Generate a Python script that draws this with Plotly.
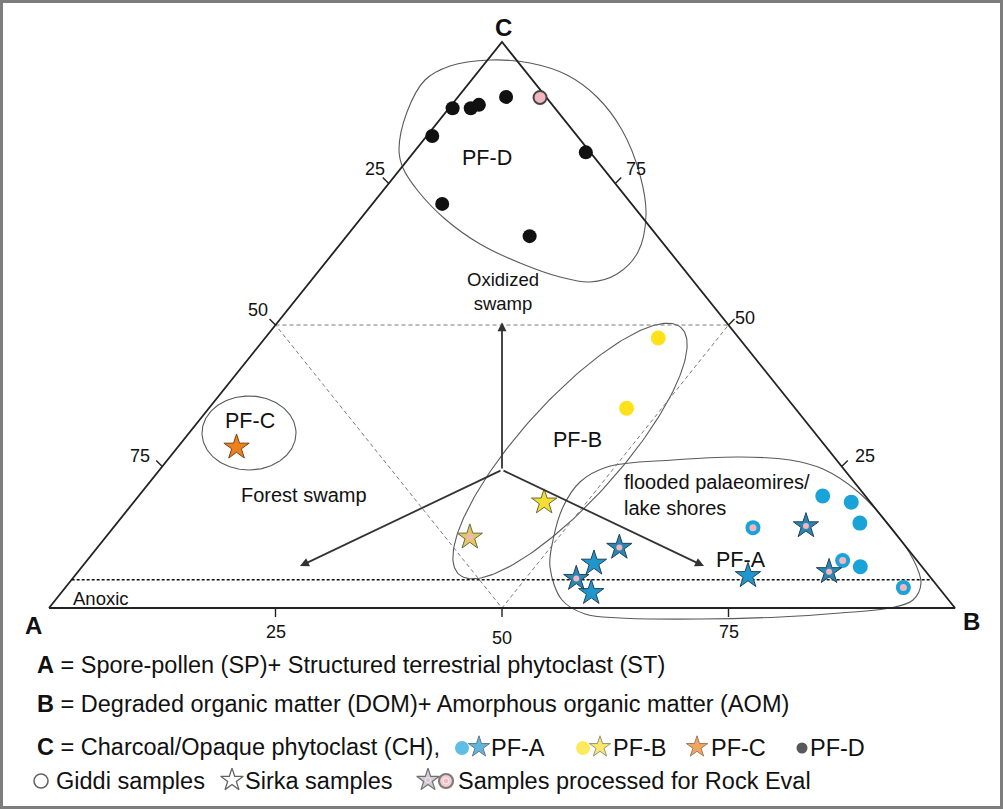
import numpy as np
import plotly.graph_objects as go

# ---------------- data (ternary percentages A, B, C) ----------------
# PF-A  (Giddi = circles, Sirka = stars)
pfa_circ_A = [4.7, 2.1, 3.0, 6.8]
pfa_circ_B = [75.5, 79.2, 82.0, 85.9]
pfa_circ_C = [19.8, 18.7, 15.0, 7.3]
pfa_circ_re_A = [15.2, 8.2, 3.9]          # processed for Rock Eval
pfa_circ_re_B = [70.6, 83.4, 92.5]
pfa_circ_re_C = [14.2, 8.4, 3.6]
pfa_star_A = [35.9, 38.8, 20.0]
pfa_star_B = [56.2, 58.5, 74.3]
pfa_star_C = [7.9, 2.7, 5.7]
pfa_star_re_A = [31.7, 39.2, 9.2, 10.7]
pfa_star_re_B = [57.6, 55.6, 76.3, 82.9]
pfa_star_re_C = [10.7, 5.2, 14.5, 6.4]
# PF-B
pfb_circ_A = [8.9, 18.6]
pfb_circ_B = [43.4, 46.1]
pfb_circ_C = [47.7, 35.3]
pfb_star_A = [36.0]
pfb_star_B = [45.3]
pfb_star_C = [18.7]
pfb_star_re_A = [47.3]
pfb_star_re_B = [40.2]
pfb_star_re_C = [12.5]
# PF-C
pfc_star_A = [65.1]
pfc_star_B = [6.5]
pfc_star_C = [28.4]
# PF-D
pfd_circ_A = [11.3, 9.3, 8.1, 4.4, 16.0, 0.5, 20.9, 14.1]
pfd_circ_B = [0.4, 2.4, 3.0, 5.3, 0.6, 19.0, 7.7, 20.2]
pfd_circ_C = [88.3, 88.3, 88.9, 90.3, 83.4, 80.5, 71.4, 65.7]
pfd_circ_re_A = [0.7]
pfd_circ_re_B = [9.1]
pfd_circ_re_C = [90.2]

tick_values = [25, 50, 75]
anoxic_C = 5
# depositional-environment arrows (A, B, C)
arrow_center = (37.8, 37.8, 24.4)
arrow_tips = [(24.75, 24.75, 50.5), (68.6, 24.0, 7.4), (24.0, 68.6, 7.4)]

# ---------------- geometry ----------------
W, H = 1003, 809
PX_A, PX_B, PY_BASE, PY_TOP = 49, 955, 608, 42
sx = (PX_B - PX_A) / 100.0
sy = (PY_BASE - PY_TOP) / 100.0
xmin = -PX_A / sx
xmax = xmin + W / sx
ymax = 100 + PY_TOP / sy
ymin = ymax - H / sy


def tern(a, b, c):
    a, b, c = (np.asarray(v, float) for v in (a, b, c))
    s = a + b + c
    b = b / s * 100
    c = c / s * 100
    return b + c / 2, c


def px2d(px, py):
    return (np.asarray(px, float) - PX_A) / sx, (PY_BASE - np.asarray(py, float)) / sy


fig = go.Figure()
LINE = "#222222"
OUT = "#5a5a5a"


def add_line(x, y, color=LINE, width=1.6, dash=None, shape="linear"):
    fig.add_trace(go.Scatter(x=list(x), y=list(y), mode="lines",
                             line=dict(color=color, width=width, dash=dash, shape=shape),
                             hoverinfo="skip", showlegend=False))


def ellipse(cx, cy, a, b, ang):
    t = np.linspace(0, 2 * np.pi, 200)
    th = np.radians(ang)
    px = cx + a * np.cos(t) * np.cos(th) - b * np.sin(t) * np.sin(th)
    py = cy + a * np.cos(t) * np.sin(th) + b * np.sin(t) * np.cos(th)
    return px2d(px, py)


# group outlines
pfd_outline = [(399, 150), (407, 112), (425, 80), (450, 66), (490, 60), (530, 63), (567, 75),
               (597, 97), (622, 130), (640, 175), (646, 215), (638, 252), (617, 274), (590, 282),
               (560, 277), (520, 263), (480, 244), (445, 219), (418, 191), (403, 168), (399, 150)]
pfa_outline = [(550, 567), (553, 540), (563, 507), (580, 482), (607, 467), (673, 460), (740, 457),
               (790, 460), (823, 469), (857, 491), (890, 526), (913, 559), (921, 583), (913, 600),
               (890, 608), (840, 613), (780, 617), (700, 619), (620, 618), (585, 614), (562, 600),
               (550, 567)]
for pts in (pfd_outline, pfa_outline):
    xx, yy = px2d([p[0] for p in pts], [p[1] for p in pts])
    add_line(xx, yy, color=OUT, width=1.1, shape="spline")
ex, ey = ellipse(570, 451, 166, 50, -48)
add_line(ex, ey, color=OUT, width=1.1)
ex, ey = ellipse(249, 433, 47, 37, 0)
add_line(ex, ey, color=OUT, width=1.1)

# dashed inner triangle
ix, iy = tern([50, 0, 50, 50], [0, 50, 50, 0], [50, 50, 0, 50])
add_line(ix, iy, color="#7a7a7a", width=1, dash="4px,3px")

# outer triangle
tx, ty = tern([100, 0, 0, 100], [0, 100, 0, 0], [0, 0, 100, 0])
add_line(tx, ty, color=LINE, width=1.8)

# anoxic line
ax_, ay_ = tern([100 - anoxic_C, 0], [0, 100 - anoxic_C], [anoxic_C, anoxic_C])
add_line(ax_, ay_, color="#111111", width=1.6, dash="3px,2px")

# ticks
for v in tick_values:
    bx, by = tern([100 - v], [v], [0])
    add_line([bx[0], bx[0]], [by[0], by[0] - 9 / sy], width=1.4)
    lx, ly = tern([v], [0], [100 - v])
    add_line([lx[0], lx[0] - 6 / sx], [ly[0], ly[0] + 6 / sy], width=1.4)
    rx, ry = tern([0], [100 - v], [v])
    add_line([rx[0], rx[0] + 6 / sx], [ry[0], ry[0] + 6 / sy], width=1.4)

# ---------------- data markers ----------------
PINK = "#F3B6BF"
BLUE = "#1AA3D9"
BLUE_STAR = "#1F97CC"
YEL = "#FFE11A"


def add_pts(A, B, C, symbol, size, color, lcolor, lwidth, name):
    x, y = tern(A, B, C)
    fig.add_trace(go.Scatter(x=x, y=y, mode="markers", name=name, showlegend=False,
                             marker=dict(symbol=symbol, size=size, color=color,
                                         line=dict(color=lcolor, width=lwidth))))


def add_center(A, B, C, size=6.5):
    x, y = tern(A, B, C)
    fig.add_trace(go.Scatter(x=x, y=y, mode="markers", showlegend=False, hoverinfo="skip",
                             marker=dict(symbol="circle", size=size, color=PINK,
                                         line=dict(width=0))))


STAR = 19
add_pts(pfd_circ_A, pfd_circ_B, pfd_circ_C, "circle", 14, "#111111", "#111111", 0, "PF-D")
add_pts(pfd_circ_re_A, pfd_circ_re_B, pfd_circ_re_C, "circle", 13, PINK, "#444444", 2, "PF-D RE")
add_pts(pfb_circ_A, pfb_circ_B, pfb_circ_C, "circle", 15, YEL, YEL, 0, "PF-B")
add_pts(pfb_star_A, pfb_star_B, pfb_star_C, "star", STAR, "#F4DE32", "#6d6a3a", 1, "PF-B star")
add_pts(pfb_star_re_A, pfb_star_re_B, pfb_star_re_C, "star", STAR, "#E2C766", "#6d6a3a", 1, "PF-B RE")
add_center(pfb_star_re_A, pfb_star_re_B, pfb_star_re_C, 6)
add_pts(pfc_star_A, pfc_star_B, pfc_star_C, "star", STAR, "#EC7F1E", "#7a4414", 1, "PF-C")
add_pts(pfa_circ_A, pfa_circ_B, pfa_circ_C, "circle", 15, BLUE, BLUE, 0, "PF-A")
add_pts(pfa_circ_re_A, pfa_circ_re_B, pfa_circ_re_C, "circle", 15, BLUE, BLUE, 0, "PF-A RE")
add_center(pfa_circ_re_A, pfa_circ_re_B, pfa_circ_re_C, 7)
add_pts(pfa_star_A, pfa_star_B, pfa_star_C, "star", STAR, BLUE_STAR, "#22415a", 1, "PF-A star")
add_pts(pfa_star_re_A, pfa_star_re_B, pfa_star_re_C, "star", STAR, "#2a86b3", "#22415a", 1, "PF-A star RE")
add_center(pfa_star_re_A, pfa_star_re_B, pfa_star_re_C, 6)

# ---------------- annotations ----------------
FONT = "Arial, 'Liberation Sans', sans-serif"
ann = []


def text_px(px, py, s, size, anchor="center", bold=False, color="#111111", align="center"):
    x, y = px2d(px, py)
    ann.append(dict(x=float(x), y=float(y), xref="x", yref="y", text=f"<b>{s}</b>" if bold else s,
                    showarrow=False, xanchor=anchor, yanchor="middle", align=align,
                    font=dict(family=FONT, size=size, color=color)))


# corner labels
text_px(33, 625, "A", 24, bold=True)
text_px(971, 621, "B", 24, bold=True)
text_px(503, 27, "C", 24, bold=True)

# tick labels
left_off = {25: (-14, -15), 50: (-18, -15), 75: (-22, -11)}
right_off = {75: (21, -15), 50: (16, -7), 25: (23, -11)}
bottom_off = {25: (0, 24), 50: (0, 30), 75: (0, 24)}
for v in tick_values:
    for (xx, yy), off in ((tern([v], [0], [100 - v]), left_off[v]),
                          (tern([0], [100 - v], [v]), right_off[v]),
                          (tern([100 - v], [v], [0]), bottom_off[v])):
        ann.append(dict(x=float(xx[0]), y=float(yy[0]), xref="x", yref="y", text=str(v),
                        showarrow=False, xshift=off[0], yshift=-off[1],
                        font=dict(family=FONT, size=18, color="#111111")))

# arrows
cx, cy = tern([arrow_center[0]], [arrow_center[1]], [arrow_center[2]])
for tip in arrow_tips:
    tx_, ty_ = tern([tip[0]], [tip[1]], [tip[2]])
    ann.append(dict(x=float(tx_[0]), y=float(ty_[0]), ax=float(cx[0]), ay=float(cy[0]),
                    xref="x", yref="y", axref="x", ayref="y", text="", showarrow=True,
                    arrowhead=2, arrowsize=1.0, arrowwidth=1.8, arrowcolor="#333333"))

# region / group labels
text_px(487, 158, "PF-D", 21.5)
text_px(577, 440, "PF-B", 21.5)
text_px(250, 421, "PF-C", 21.5)
text_px(741, 560, "PF-A", 21.5)
text_px(503, 291, "Oxidized<br>swamp", 18.5)
text_px(304, 495, "Forest swamp", 20)
text_px(622, 495, "flooded palaeomires/<br>lake shores", 20, anchor="left", align="left")
text_px(71, 598, "Anoxic", 18.5, anchor="left")

# explanation block
LEG = 23.5
text_px(35, 665, "<b>A</b> = Spore-pollen (SP)+ Structured terrestrial phytoclast (ST)", LEG, anchor="left")
text_px(35, 704, "<b>B</b> = Degraded organic matter (DOM)+ Amorphous organic matter (AOM)", LEG, anchor="left")
text_px(35, 747, "<b>C</b> = Charcoal/Opaque phytoclast (CH),", LEG, anchor="left")
text_px(489, 748, "PF-A", LEG, anchor="left")
text_px(611, 748, "PF-B", LEG, anchor="left")
text_px(709, 748, "PF-C", LEG, anchor="left")
text_px(808, 748, "PF-D", LEG, anchor="left")
text_px(54, 781, "Giddi samples", LEG, anchor="left")
text_px(243, 781, "Sirka samples", LEG, anchor="left")
text_px(456, 781, "Samples processed for Rock Eval", LEG, anchor="left")

# legend key symbols (pixel positions in the explanation block)
key_px = [(462, 748), (479, 747), (583, 748), (600, 747), (697, 747), (802, 748),
          (41, 781), (232, 780), (428, 780), (446, 781)]
key_sym = ["circle", "star", "circle", "star", "star", "circle",
           "circle-open", "star-open", "star", "circle"]
key_size = [14, 16, 14, 16, 16, 11, 14, 17, 17, 14]
key_col = [BLUE, BLUE_STAR, YEL, "#F4DE32", "#EC7F1E", "#111111",
           "#222222", "#222222", "#bdb7c4", PINK]
key_line = ["rgba(0,0,0,0)", "#22415a", "rgba(0,0,0,0)", "#6d6a3a", "#7a4414", "rgba(0,0,0,0)",
            "#222222", "#222222", "#333333", "#444444"]
key_lw = [0, 1, 0, 1, 1, 0, 1.6, 1.3, 1.2, 2.2]
kx, ky = px2d([p[0] for p in key_px], [p[1] for p in key_px])
fig.add_trace(go.Scatter(x=kx, y=ky, mode="markers", showlegend=False, hoverinfo="skip",
                         marker=dict(symbol=key_sym, size=key_size, color=key_col,
                                     line=dict(color=key_line, width=key_lw))))
kcx, kcy = px2d([428, 446], [780, 781])
fig.add_trace(go.Scatter(x=kcx, y=kcy, mode="markers", showlegend=False, hoverinfo="skip",
                         marker=dict(symbol="circle", size=[5, 6], color=PINK)))

fig.update_layout(
    width=W, height=H,
    margin=dict(l=0, r=0, t=0, b=0),
    paper_bgcolor="white", plot_bgcolor="white",
    xaxis=dict(range=[xmin, xmax], visible=False, fixedrange=True),
    yaxis=dict(range=[ymin, ymax], visible=False, fixedrange=True),
    annotations=ann,
    shapes=[dict(type="rect", xref="paper", yref="paper", x0=0.0015, x1=0.9985,
                 y0=0.0018, y1=0.9982, line=dict(color="#7d7d7d", width=3))],
    showlegend=False,
)

fig.write_html("out.html", config={"displayModeBar": False},
               post_script="document.body.style.margin='0px';document.body.style.overflow='hidden';")
